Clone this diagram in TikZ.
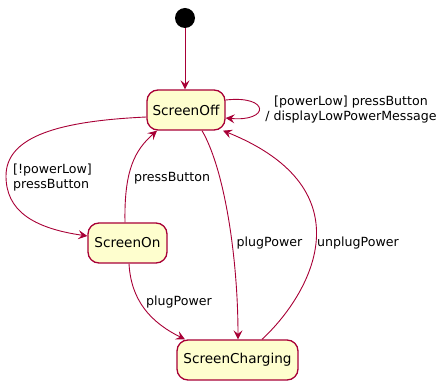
\documentclass[tikz,border=0pt]{standalone}
\usepackage{fontspec}
\setmainfont{DejaVu Sans}
\usetikzlibrary{arrows.meta}
\definecolor{stfill}{HTML}{FEFECE}
\definecolor{stline}{HTML}{A80036}
\tikzset{
  state/.style={draw=stline, fill=stfill, line width=1.3pt, rounded corners=11pt,
    minimum height=40pt, inner sep=0pt, font=\fontsize{13.6}{16}\selectfont},
  arr/.style={draw=stline, line width=0.9pt, -{Stealth[length=9pt,width=9pt,inset=3.5pt]}},
  lbl/.style={font=\fontsize{12.6}{15}\selectfont, inner sep=0pt, text=black}
}
\begin{document}
\begin{tikzpicture}[x=1pt,y=-1pt]
\useasboundingbox (0,0) rectangle (448,390);
\node[circle, fill=black, minimum size=20pt, inner sep=0pt] (init) at (185,18) {};
\node[state, minimum width=78pt] (off) at (186,110) {ScreenOff};
\node[state, minimum width=79pt] (on) at (127.5,243) {ScreenOn};
\node[state, minimum width=121pt] (chg) at (237.5,360) {ScreenCharging};
\coordinate (w1) at (6,176);

\draw[arr] (init) -- (init |- off.north);
\draw[arr] (off.east |- 0,100) .. controls (270,95) and (270,122) .. (off.east |- 0,118);
\draw[arr] (off.west |- 0,117) .. controls (60,121) and (6,136) .. (w1)
  .. controls (6,210) and (32,228) .. (on.west |- 0,236);
\draw[arr] (on.north -| 125,0) .. controls (124,170) and (135,150) .. (off.south -| 157,0);
\draw[arr] (off.south -| 202,0) .. controls (225,170) and (238,260) .. (chg.north -| 238,0);
\draw[arr] (chg.north -| 262,0) .. controls (310,295) and (370,190) .. (off.south -| 223,0);
\draw[arr] (on.south -| 129,0) .. controls (131,300) and (150,322) .. (chg.north -| 185,0);

\node[lbl, align=center] (l1) at (351,110) {[powerLow] pressButton\\/ displayLowPowerMessage};
\node[lbl, align=left] (l2) at (52.5,177.5) {[!powerLow]\\pressButton};
\node[lbl] (l3) at (172,178) {pressButton};
\node[lbl] (l4) at (269.5,243) {plugPower};
\node[lbl] (l5) at (358,243) {unplugPower};
\node[lbl] (l6) at (179,302) {plugPower};
\end{tikzpicture}
\end{document}
